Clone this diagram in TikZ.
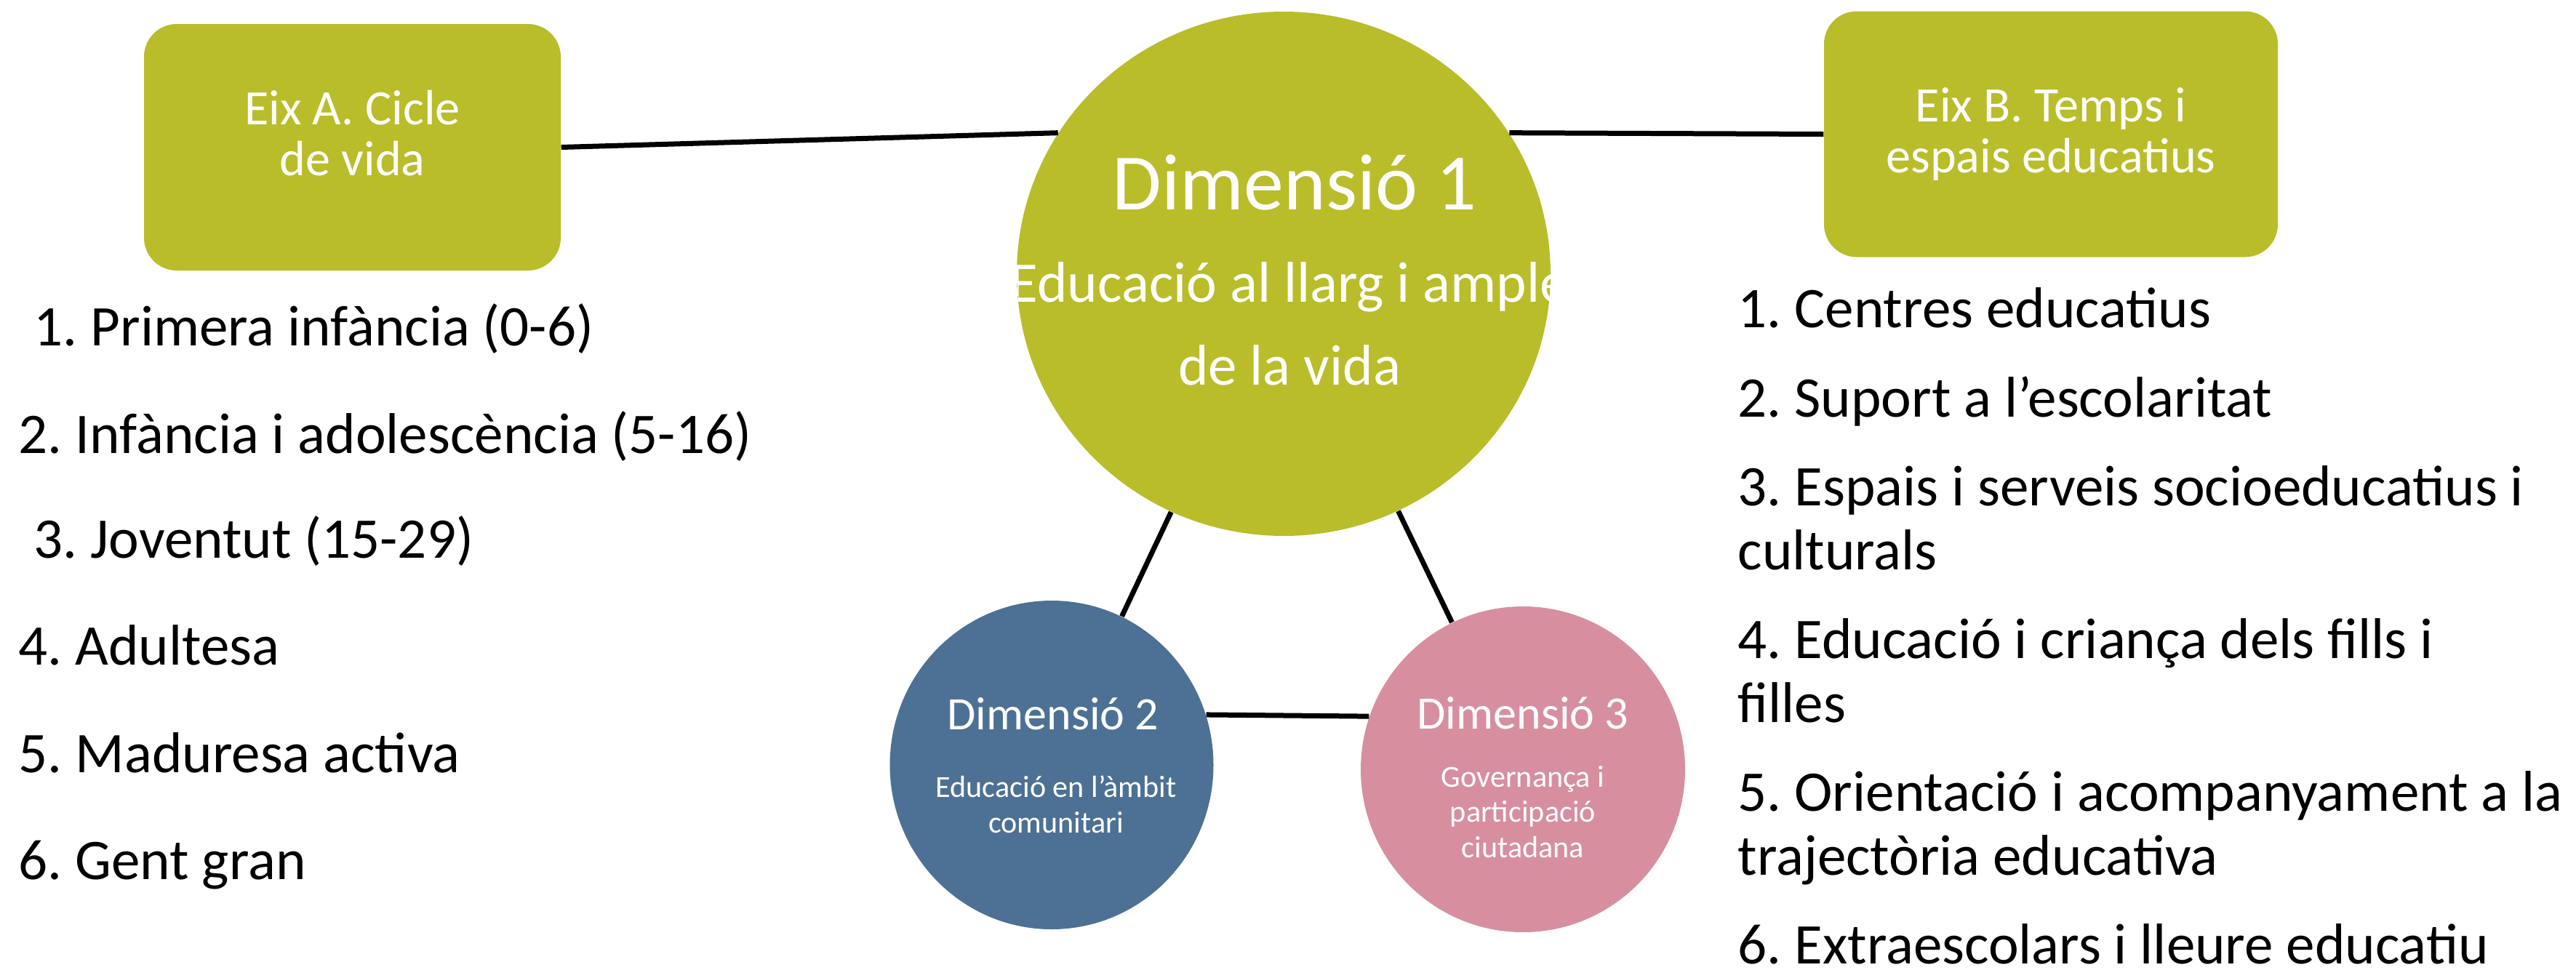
\documentclass[tikz,border=0pt]{standalone}
\usepackage{fontspec}
\setmainfont{Carlito}
\usepackage{tikz}
\usepackage{xcolor}
\usetikzlibrary{shapes.geometric}

\definecolor{eixgreen}{RGB}{185,189,42}
\definecolor{dimblue}{RGB}{77,113,148}
\definecolor{dimpink}{RGB}{215,143,160}

\frenchspacing

\begin{document}
\begin{tikzpicture}[
    eixbox/.style={fill=eixgreen, rectangle, rounded corners=0.45cm, inner sep=0pt, text=white, align=center, font=\fontsize{19.4}{19.9}\selectfont},
    dimbubble/.style={ellipse, inner sep=0pt},
    dimtitle/.style={anchor=base, inner sep=0pt, text=white, font=\fontsize{18.2}{20}\selectfont},
    dimtext/.style={anchor=base, inner sep=0pt, text=white, align=center, font=\fontsize{12}{13.7}\selectfont},
    item/.style={anchor=base west, inner sep=0pt, align=left, font=\fontsize{22.5}{25}\selectfont},
    link/.style={line width=0.07cm}
]
\useasboundingbox (0,0) rectangle (35.42,-13.33);

% Axes boxes
\node[eixbox, minimum width=5.73cm, minimum height=3.39cm, text depth=0.4cm] (eixA) at (4.845,-2.025) {Eix A. Cicle\\de vida};
\node[eixbox, minimum width=6.24cm, minimum height=3.38cm] (eixB) at (28.20,-1.845) {Eix B. Temps i\\espais educatius};

% Dimensions
\node[dimbubble, fill=eixgreen, minimum width=7.34cm, minimum height=7.21cm] (dim1) at (17.65,-3.765) {};
\node[dimbubble, fill=dimblue, minimum width=4.45cm, minimum height=4.52cm] (dim2) at (14.46,-10.52) {};
\node[dimbubble, fill=dimpink, minimum width=4.46cm, minimum height=4.48cm] (dim3) at (20.94,-10.58) {};

% Text of dimension 1 (cut by the bubble)
\begin{scope}
\clip (dim1.center) ellipse (3.67cm and 3.605cm);
\node[dimtitle, font=\fontsize{31.3}{33}\selectfont] (dim1title) at (17.80,-2.88) {Dimensió 1};
\node[dimtext, font=\fontsize{22.5}{32.4}\selectfont] (dim1text) at (17.73,-5.29) {Educació al llarg i ample\\de la vida};
\end{scope}

\node[dimtitle] (dim2title) at (14.48,-10.03) {Dimensió 2};
\node[dimtext] (dim2text) at (14.52,-11.45) {Educació en l'àmbit\\comunitari};
\node[dimtitle] (dim3title) at (20.94,-10.02) {Dimensió 3};
\node[dimtext] (dim3text) at (20.94,-11.79) {Governança i\\participació\\ciutadana};

% Connections
\draw[link] (eixA.east) -- (dim1.148);
\draw[link] (dim1.32) -- (eixB.west);
\draw[link] (dim1) -- (dim2);
\draw[link] (dim1) -- (dim3);
\draw[link] (dim2.18) -- (dim3.161);

% Axis A items
\node[item] (a1) at (0.46,-4.75) {1. Primera infància (0-6)};
\node[item] (a2) at (0.25,-6.23) {2. Infància i adolescència (5-16)};
\node[item] (a3) at (0.46,-7.67) {3. Joventut (15-29)};
\node[item] (a4) at (0.25,-9.14) {4. Adultesa};
\node[item] (a5) at (0.25,-10.62) {5. Maduresa activa};
\node[item] (a6) at (0.25,-12.09) {6. Gent gran};

% Axis B items (base = last line)
\node[item] (b1) at (23.89,-4.50) {1. Centres educatius};
\node[item] (b2) at (23.89,-5.73) {2. Suport a l’escolaritat};
\node[item] (b3) at (23.89,-7.83) {3. Espais i serveis socioeducatius i\\culturals};
\node[item] (b4) at (23.89,-9.93) {4. Educació i criança dels fills i\\filles};
\node[item] (b5) at (23.89,-12.03) {5. Orientació i acompanyament a la\\trajectòria educativa};
\node[item] (b6) at (23.89,-13.25) {6. Extraescolars i lleure educatiu};

\end{tikzpicture}
\end{document}
